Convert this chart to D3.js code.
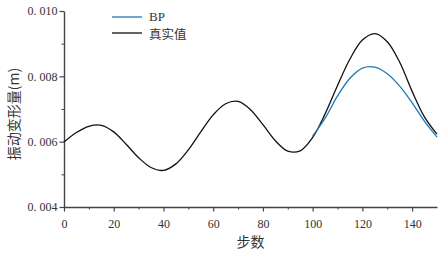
<!DOCTYPE html>
<html>
<head>
<meta charset="utf-8">
<script src="https://cdn.jsdelivr.net/npm/d3@7"></script>
<style>
  body { margin: 0; background: #fff; }
  .tick text { font-family: "Liberation Serif", "DejaVu Serif", serif; font-size: 12px; fill: #333; }
  .cjk { font-family: "Noto Sans CJK SC", sans-serif; fill: #333; }
</style>
</head>
<body>
<script>
const margin = {top: 11, right: 7, bottom: 48, left: 64};
const W = 444, H = 255;
const width  = W - margin.left - margin.right;
const height = H - margin.top - margin.bottom;

// data
const steps     = [0, 5, 10, 15, 20, 25, 30, 35, 40, 45, 50, 55, 60, 65, 70, 75, 80, 85, 90, 95,
                   100, 105, 110, 115, 120, 125, 130, 135, 140, 145, 150];
const realVals  = [0.00599, 0.00628, 0.00647, 0.00650, 0.00630, 0.00592, 0.00551, 0.00521, 0.00512,
                   0.00532, 0.00575, 0.00630, 0.00682, 0.00716, 0.00723, 0.00698, 0.00652, 0.00603,
                   0.00571, 0.00572, 0.00613, 0.00685, 0.00772, 0.00853, 0.00911, 0.00931, 0.00906,
                   0.00843, 0.00754, 0.00675, 0.00623];
const bpSteps   = [100, 105, 110, 115, 120, 125, 130, 135, 140, 145, 150];
const bpVals    = [0.00617, 0.00672, 0.00740, 0.00794, 0.00825, 0.00828, 0.00808, 0.00770, 0.00719, 0.00662, 0.00614];
const xTicks    = [0, 20, 40, 60, 80, 100, 120, 140];
const yTicks    = [0.004, 0.006, 0.008, 0.010];
const legendNames = ["BP", "真实值"];
const colors    = ["#1f77b4", "#111111"];

const svg = d3.select("body").append("svg")
  .attr("width", W)
  .attr("height", H);

const g = svg.append("g").attr("transform", `translate(${margin.left},${margin.top})`);

const xScale = d3.scaleLinear().domain([0, 150]).range([0, width]);
const yScale = d3.scaleLinear().domain([0.004, 0.010]).range([height, 0]);

// minor ticks
g.append("g")
  .attr("transform", `translate(0,${height})`)
  .call(d3.axisBottom(xScale).tickValues(d3.range(10, 150, 20)).tickSize(2.5).tickFormat(""))
  .call(a => a.select(".domain").remove())
  .selectAll("line").attr("stroke", "#444");
g.append("g")
  .call(d3.axisLeft(yScale).tickValues([0.005, 0.007, 0.009]).tickSize(2.5).tickFormat(""))
  .call(a => a.select(".domain").remove())
  .selectAll("line").attr("stroke", "#444");

const xAxis = g.append("g")
  .attr("transform", `translate(0,${height})`)
  .call(d3.axisBottom(xScale).tickValues(xTicks).tickSize(4.5).tickSizeOuter(0).tickPadding(8));
const yAxis = g.append("g")
  .call(d3.axisLeft(yScale).tickValues(yTicks).tickSize(4.5).tickSizeOuter(0).tickPadding(2)
    .tickFormat(d => d3.format(".3f")(d).replace(".", ". ")));

[xAxis, yAxis].forEach(a => {
  a.select(".domain").attr("stroke", "#444").attr("stroke-width", 1.4);
  a.selectAll(".tick line").attr("stroke", "#444").attr("stroke-width", 1.2);
});

const line = d3.line()
  .x(d => xScale(d[0]))
  .y(d => yScale(d[1]))
  .curve(d3.curveCatmullRom);

g.append("path")
  .datum(steps.map((s, i) => [s, realVals[i]]))
  .attr("fill", "none")
  .attr("stroke", colors[1])
  .attr("stroke-width", 1.3)
  .attr("d", line);

g.append("path")
  .datum(bpSteps.map((s, i) => [s, bpVals[i]]))
  .attr("fill", "none")
  .attr("stroke", colors[0])
  .attr("stroke-width", 1.3)
  .attr("d", line);

// legend
const legend = svg.append("g").attr("transform", "translate(112,17)");
legendNames.forEach((name, i) => {
  const row = legend.append("g").attr("transform", `translate(0,${i * 16})`);
  row.append("line").attr("x1", 0).attr("x2", 30).attr("stroke", colors[i]).attr("stroke-width", 1.3);
  row.append("text")
    .attr("class", i === 0 ? "" : "cjk")
    .attr("x", 37).attr("y", i === 0 ? 4 : 5.5)
    .style("font-family", i === 0 ? "'Liberation Serif', serif" : null)
    .style("font-size", i === 0 ? "13px" : "12.5px")
    .attr("fill", "#333")
    .text(name);
});

// axis titles
svg.append("text")
  .attr("class", "cjk")
  .attr("x", margin.left + xScale(75)).attr("y", 247)
  .attr("text-anchor", "middle")
  .style("font-size", "14px")
  .text("步数");

svg.append("text")
  .attr("class", "cjk")
  .attr("transform", `translate(19,${margin.top + yScale(0.007) + 5}) rotate(-90)`)
  .attr("text-anchor", "middle")
  .style("font-size", "14px")
  .text("振动变形量(m)");
</script>
</body>
</html>
